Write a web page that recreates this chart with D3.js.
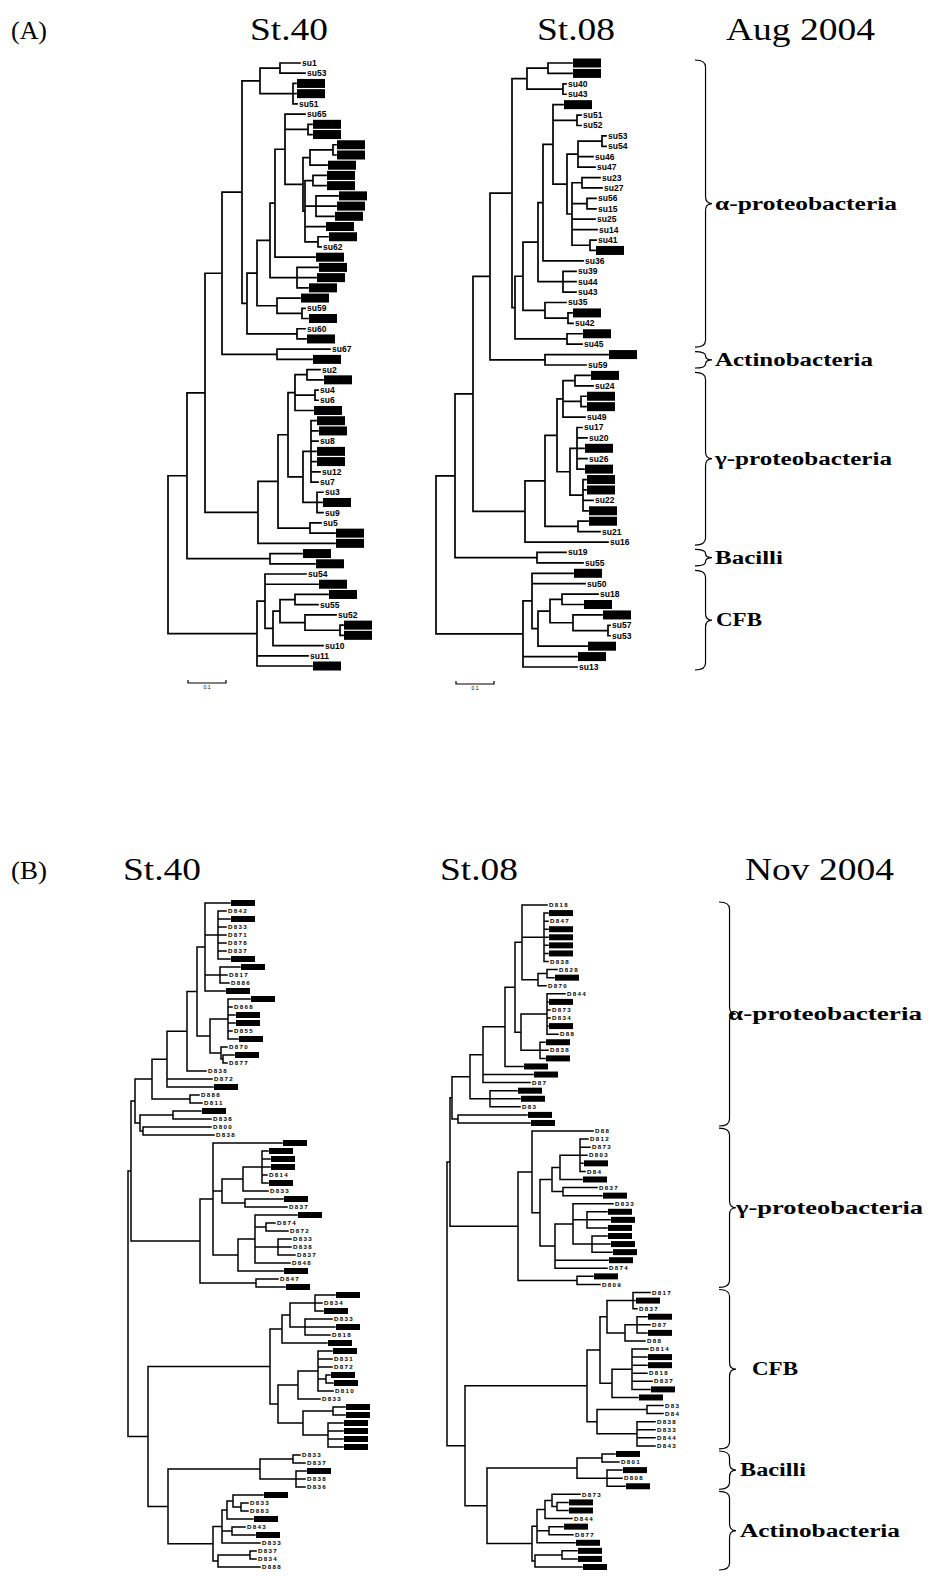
<!DOCTYPE html>
<html><head><meta charset="utf-8">
<script src="https://cdn.jsdelivr.net/npm/d3@7"></script>
<style>html,body{margin:0;padding:0;background:#fff;}svg{display:block;}</style>
</head><body>
<script>
// ---------------- DATA ----------------
// Trees in Newick-like notation. "#" = leaf whose label is blacked out.
// The number after ':' is the node's distance from the root (tree units).

// (A) Aug 2004, St.40
const a40Top = "((su1:132,su53:137):112,(#:128,#:128,su51:129):125):92";
const a40Alpha = "(su65:137,(#:144,#:144):140,(((#:168,#:168):165,#:159):142,((#:158,#:158):145,(#:170,#:168,#:166):148,#:157,(#:160,su62:153):150):137):135):117";
const a40Lower = "((((" + a40Alpha + ",#:147):107,(#:150,#:148,#:140):129):102,(#:132,(su59:137,#:140):134):109):89,(su60:137,#:138):129):79";
const a40AlphaAct = "((" + a40Top + "," + a40Lower + "):74,(su67:162,#:144):109):54";
const a40Gamma = "(((((su2:152,#:155):139,(su4:150,su6:150):147,#:145):127,((#:148,#:150,su8:150,#:148,#:148,su12:152,su7:150):143,(su3:155,#:154,su9:155):149):135):120,(su5:153,#:167):142):110,#:167):90";
const a40Bacilli = "(#:134,#:147):102";
const a40CFB = "((su54:138,#:150,(((#:160,su55:150):127,(su52:168,(#:175,#:175):172):137):112,su10:155):105):97,su11:140,#:144):89";
const treeA40 = "(((" + a40AlphaAct + "," + a40Gamma + "):37," + a40Bacilli + "):19," + a40CFB + ")";

// (A) Aug 2004, St.08
const a08Top = "((#:136,#:136):112,(su40:130,su43:130):127):91";
const a08n578 = "((su53:170,su54:170):166,su46:157,su47:159):142";
const a08n572 = "((su23:164,su27:166):146,(su56:160,su15:160):151,su25:159,su14:161,(su41:160,#:159):154):136";
const a08n553 = "(#:127,(su51:145,su52:145):141,(" + a08n578 + "," + a08n572 + "):131):117";
const a08n538 = "((" + a08n553 + ",su36:147):107,(su39:140,su44:140,su43:140):127):102";
const a08n545 = "(su35:130,(#:136,su42:137):132):109";
const a08n512 = "(" + a08Top + ",((" + a08n538 + "," + a08n545 + "):87,(#:146,su45:146):131):79):76";
const a08AlphaAct = "(" + a08n512 + ",(#:172,su59:150):109):54";
const a08Gamma = "(((((#:154,su24:157):139,(#:150,#:150):145,su49:149):127,((su17:146,su20:151,#:148,su26:151,#:148):141,(#:150,#:150,su22:157,#:152):147):134):121,(#:152,su21:164):142):109,su16:172):89";
const a08Bacilli = "(su19:130,su55:147):101";
const a08CFB = "((#:137,su50:149,(((su18:162,#:147):126,(#:166,(su57:174,su53:174):172):137):114,#:151):102):96,#:141,su13:141):87";
const treeA08 = "(((" + a08AlphaAct + "," + a08Gamma + "):37," + a08Bacilli + "):19," + a08CFB + ")";

// (B) Nov 2004, St.40
const b40A5 = "(#:102,(D842:98,#:102,D833:98,D871:98,D878:98,D837:98,#:102):90,(#:112,D817:99,D886:101):92,#:97):77";
const b40A10 = "((#:122,D868:104,#:107,#:107,D855:104,#:110):100,(D870:99,(#:106,D877:99):95):93):82";
const b40Alpha = "(((((" + b40A5 + "," + b40A10 + "):69,D838:78):59,D872:84,#:85):39,(D888:71,D811:74):62):24,((#:73,D838:83):45,(D800:83,D838:86):15):12):7";
const b40G3 = "((#:140,#:142,#:142,D814:139,#:140):134,D833:140):115";
const b40G7 = "(#:169,(D874:147,D872:160):138,(D833:163,D838:163,D837:167):150,D848:162):127";
const b40Gamma = "((#:154,(" + b40G3 + ",(#:155,D837:159):117):94,(" + b40G7 + ",#:155):110):85,(D847:150,#:157):128):72";
const b40CFB = "((((#:207,D834:194,#:195):187,(D833:204,#:207,D818:202):177):162,#:199):154,(((#:204,D831:204,D872:204,(#:202,#:205):198,D810:205):190,D833:192):170,((#:217,#:217):205,(#:215,#:215,#:215,#:215):200):175):150):142";
const b40Bacilli = "((D833:172,D837:177):165,(#:178,D838:177,D836:177):168):132";
const b40Actino = "((((#:135,(D833:120,D883:120):113):105,#:125):99,(D843:117,#:127):104,D833:132):94,((D837:128,D834:128):122,D888:132):90):85";
const treeB40 = "((" + b40Alpha + "," + b40Gamma + "):3,(" + b40CFB + ",(" + b40Bacilli + "," + b40Actino + "):40):20)";

// (B) Nov 2004, St.08
const b08A5 = "(D818:100,(#:101,D847:101,#:101,#:101,#:101,#:101,D838:101):97,((D828:110,#:107):100,D870:99):91):75";
const b08A9 = "((D844:118,#:101,D873:103,D834:103,#:101,D88:111):100,(#:98,D838:101,#:98):93):74";
const b08Alpha = "(((((" + b08A5 + "," + b08A9 + "):68,#:76):58,#:86,D87:83):36,(#:70,#:73,D83:73):43):23,(#:80,#:83):11):5";
const b08G5 = "(D812:141,D873:143,D803:140,#:136,D84:138):133";
const b08G8 = "(D833:166,(#:160,#:163,#:160):140,(#:160,#:163,#:165):145):126";
const b08Gamma = "((D88:146,(((" + b08G5 + ",#:135):113,(D837:150,#:155):116):105,(" + b08G8 + ",#:161,D874:160):108):93):85,(#:146,D809:153):130):71";
const b08CFB = "((((D817:203,#:188,D837:190):186,((#:200,D87:203,#:200):190,D88:198):178):160,((D814:201,#:200,#:200,D818:200,D837:205,#:203):185,#:191):165):153,((D83:216,D84:216):200,(D838:208,D833:208,D844:208,D843:208):190):150):140";
const b08Bacilli = "((#:168,D801:172):155,(#:175,D808:175,#:178):160):130";
const b08Actino = "((((D873:133,(#:121,#:121):110):105,D844:125):98,(#:116,D877:126):102,#:128):90,((#:130,#:130):115,#:135):88):85";
const treeB08 = "((" + b08Alpha + "," + b08Gamma + "):3,(" + b08CFB + ",(" + b08Bacilli + "," + b08Actino + "):40):18)";

// Text
const panelLabels = ["(A)", "(B)"];
const stationNames = ["St.40", "St.08"];
const dates = ["Aug 2004", "Nov 2004"];
// Clade braces: leaf index ranges in the St.08 tree of each panel
const cladeNamesA = ["α-proteobacteria", "Actinobacteria", "γ-proteobacteria", "Bacilli", "CFB"];
const cladeFromA = [0, 28, 30, 47, 49];
const cladeToA   = [27, 29, 46, 48, 58];
const cladeNamesB = ["α-proteobacteria", "γ-proteobacteria", "CFB", "Bacilli", "Actinobacteria"];
const cladeFromB = [0, 28, 48, 68, 73];
const cladeToB   = [27, 47, 67, 72, 82];
const scaleBarLen = 38, scaleBarLabel = "0.1";

// ---------------- LAYOUT ----------------
const W = 933, H = 1576;
const layout = {
  trees: [
    {src: treeA40, rootX: 168, yTop: 63, yBot: 666, kind: "A", bar: true},
    {src: treeA08, rootX: 436, yTop: 63, yBot: 667, kind: "A", bar: true},
    {src: treeB40, rootX: 128, yTop: 903, yBot: 1567, kind: "B", bar: false},
    {src: treeB08, rootX: 447, yTop: 905, yBot: 1567, kind: "B", bar: false}
  ],
  style: {
    A: {stroke: 1.7, boxW: 28, boxH: 9, font: 8.5, ls: 0, weight: "bold"},
    B: {stroke: 1.5, boxW: 24, boxH: 6, font: 6.2, ls: 1.3, weight: "bold"}
  }
};

// ---------------- HELPERS ----------------
function parseNewick(s) {
  let i = 0;
  function node() {
    const n = {};
    if (s[i] === "(") {
      i++;
      n.children = [node()];
      while (s[i] === ",") { i++; n.children.push(node()); }
      if (s[i] !== ")") throw new Error("bad newick at " + i);
      i++;
    }
    let name = "";
    while (i < s.length && !",():".includes(s[i])) name += s[i++];
    n.name = name;
    n.dist = 0;
    if (s[i] === ":") {
      i++;
      let num = "";
      while (i < s.length && !",()".includes(s[i])) num += s[i++];
      n.dist = +num;
    }
    return n;
  }
  const r = node();
  if (i !== s.length) throw new Error("trailing newick at " + i);
  return r;
}

const svg = d3.select("body").append("svg").attr("width", W).attr("height", H)
  .attr("viewBox", `0 0 ${W} ${H}`);
svg.append("rect").attr("width", W).attr("height", H).attr("fill", "#fff");

function drawTree(cfg) {
  const st = layout.style[cfg.kind];
  const root = d3.hierarchy(parseNewick(cfg.src));
  const leaves = root.leaves();
  const y = d3.scaleLinear().domain([0, leaves.length - 1]).range([cfg.yTop, cfg.yBot]);
  const x = d3.scaleLinear().domain([0, 100]).range([cfg.rootX, cfg.rootX + 100]);
  leaves.forEach((l, i) => { l.py = y(i); });
  root.eachAfter(n => {
    if (n.children) n.py = (n.children[0].py + n.children[n.children.length - 1].py) / 2;
    n.px = x(n.data.dist);
  });
  const g = svg.append("g");
  let d = "";
  root.each(n => {
    if (n.children) {
      d += `M${n.px},${n.children[0].py}V${n.children[n.children.length - 1].py}`;
      n.children.forEach(c => { d += `M${n.px},${c.py}H${c.px}`; });
    }
  });
  g.append("path").attr("d", d).attr("fill", "none").attr("stroke", "#000")
    .attr("stroke-width", st.stroke).attr("stroke-linecap", "square");
  g.selectAll("rect.box").data(leaves.filter(l => l.data.name === "#")).join("rect")
    .attr("class", "box")
    .attr("x", l => l.px + 1).attr("y", l => l.py - st.boxH / 2)
    .attr("width", st.boxW).attr("height", st.boxH).attr("fill", "#000");
  g.selectAll("text.lab").data(leaves.filter(l => l.data.name !== "#")).join("text")
    .attr("class", "lab")
    .attr("x", l => l.px + 2).attr("y", l => l.py)
    .attr("dy", "0.35em")
    .attr("font-family", "Liberation Sans, Arial, sans-serif")
    .attr("font-size", st.font).attr("font-weight", st.weight)
    .attr("letter-spacing", st.ls)
    .text(l => l.data.name);
  if (cfg.bar) {
    const by = cfg.yBot + 17;
    const x0 = x(20), x1 = x(20 + scaleBarLen);
    g.append("path").attr("d", `M${x0},${by - 3}V${by}H${x1}V${by - 3}`)
      .attr("fill", "none").attr("stroke", "#000").attr("stroke-width", 1.2);
    g.append("text").attr("x", (x0 + x1) / 2).attr("y", by + 6).attr("text-anchor", "middle")
      .attr("font-family", "Liberation Sans, Arial, sans-serif").attr("font-size", 5).text(scaleBarLabel);
  }
  return {y};
}

const drawn = layout.trees.map(drawTree);

// Titles
const serif = "Liberation Serif, Times New Roman, serif";
const titleRows = [
  {panel: panelLabels[0], py: 39, pX: 11, st: [{t: stationNames[0], cx: 289}, {t: stationNames[1], cx: 576}], date: dates[0], dcx: 801, by: 40},
  {panel: panelLabels[1], py: 879, pX: 11, st: [{t: stationNames[0], cx: 162}, {t: stationNames[1], cx: 479}], date: dates[1], dcx: 820, by: 880}
];
titleRows.forEach(r => {
  svg.append("text").attr("x", r.pX).attr("y", r.py).attr("font-family", serif)
    .attr("font-size", 26).attr("textLength", 36).attr("lengthAdjust", "spacingAndGlyphs").text(r.panel);
  r.st.forEach(s => {
    svg.append("text").attr("x", s.cx - 39).attr("y", r.by).attr("font-family", serif)
      .attr("font-size", 31).attr("textLength", 78).attr("lengthAdjust", "spacingAndGlyphs").text(s.t);
  });
  svg.append("text").attr("x", r.dcx - 75).attr("y", r.by).attr("font-family", serif)
    .attr("font-size", 31).attr("textLength", 149).attr("lengthAdjust", "spacingAndGlyphs").text(r.date);
});

// Braces + clade labels
function bracePath(x0, y0, y1, w) {
  const m = (y0 + y1) / 2, xm = x0 + w * 0.62, r = Math.min(7, (y1 - y0) / 4);
  return `M${x0},${y0}Q${xm},${y0} ${xm},${y0 + r}L${xm},${m - r}Q${xm},${m} ${x0 + w},${m}` +
         `Q${xm},${m} ${xm},${m + r}L${xm},${y1 - r}Q${xm},${y1} ${x0},${y1}`;
}
const braceSets = [
  {names: cladeNamesA, from: cladeFromA, to: cladeToA, y: drawn[1].y, bx: 695, bw: 17,
   lx: [715, 715, 715, 715, 716], lw: [182, 158, 177, 68, 46]},
  {names: cladeNamesB, from: cladeFromB, to: cladeToB, y: drawn[3].y, bx: 719, bw: 17,
   lx: [728, 736, 752, 740, 740], lw: [194, 187, 46, 66, 160]}
];
braceSets.forEach(bs => {
  bs.names.forEach((nm, i) => {
    const y0 = bs.y(bs.from[i]) - 3, y1 = bs.y(bs.to[i]) + 3;
    svg.append("path").attr("d", bracePath(bs.bx, y0, y1, bs.bw))
      .attr("fill", "none").attr("stroke", "#000").attr("stroke-width", 1.2);
    svg.append("text").attr("x", bs.lx[i]).attr("y", (y0 + y1) / 2 + 6)
      .attr("font-family", serif).attr("font-size", 18).attr("font-weight", "bold")
      .attr("textLength", bs.lw[i]).attr("lengthAdjust", "spacingAndGlyphs").text(nm);
  });
});
</script>
</body></html>
